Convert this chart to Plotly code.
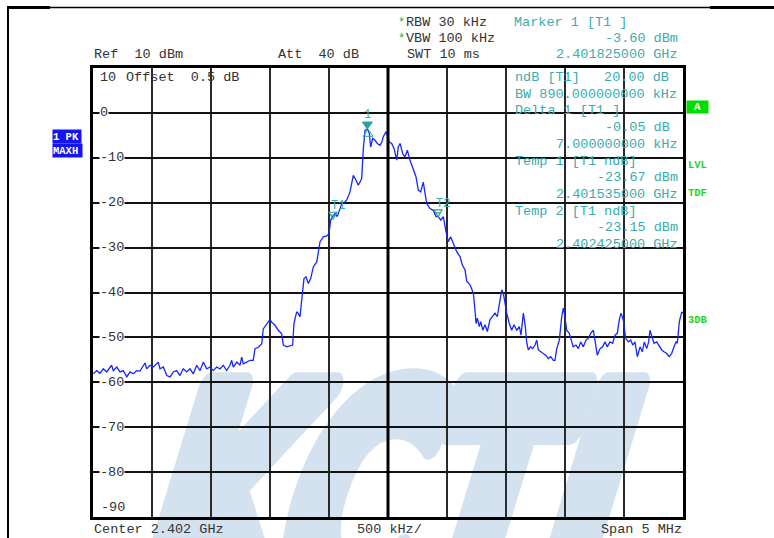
import base64
import plotly.graph_objects as go

# ---------------- data ----------------
START_GHZ = 2.3995
STOP_GHZ = 2.4045
CENTER_GHZ = 2.402

# sweep frequency, MHz above start frequency
sweep_offset_mhz = [
    0.003, 0.031, 0.059, 0.087, 0.116, 0.144, 0.158, 0.172, 0.201, 0.229,
    0.257, 0.286, 0.314, 0.342, 0.370, 0.398, 0.426, 0.441, 0.455, 0.483,
    0.511, 0.540, 0.553, 0.568, 0.596, 0.625, 0.653, 0.681, 0.709, 0.737,
    0.765, 0.794, 0.822, 0.850, 0.879, 0.907, 0.935, 0.964, 0.992, 1.019,
    1.048, 1.076, 1.104, 1.133, 1.161, 1.175, 1.189, 1.218, 1.246, 1.260,
    1.274, 1.303, 1.331, 1.358, 1.373, 1.401, 1.430, 1.443, 1.472, 1.500,
    1.514, 1.542, 1.570, 1.599, 1.613, 1.642, 1.692, 1.703, 1.726, 1.740,
    1.754, 1.769, 1.788, 1.805, 1.825, 1.845, 1.867, 1.896, 1.909, 1.924,
    1.952, 1.981, 2.000, 2.014, 2.031, 2.051, 2.070, 2.087, 2.108, 2.136,
    2.150, 2.178, 2.206, 2.229, 2.248, 2.263, 2.277, 2.291, 2.305, 2.325,
    2.342, 2.353, 2.370, 2.390, 2.409, 2.432, 2.447, 2.460, 2.483, 2.494,
    2.511, 2.531, 2.551, 2.574, 2.587, 2.602, 2.625, 2.644, 2.664, 2.686,
    2.714, 2.737, 2.757, 2.777, 2.799, 2.814, 2.828, 2.856, 2.884, 2.907,
    2.926, 2.947, 2.969, 2.989, 3.011, 3.031, 3.053, 3.082, 3.110, 3.130,
    3.153, 3.167, 3.195, 3.223, 3.237, 3.246, 3.257, 3.274, 3.286, 3.303,
    3.322, 3.342, 3.364, 3.387, 3.407, 3.426, 3.443, 3.464, 3.477, 3.492,
    3.506, 3.528, 3.548, 3.568, 3.591, 3.613, 3.627, 3.647, 3.664, 3.675,
    3.689, 3.709, 3.726, 3.746, 3.760, 3.774, 3.794, 3.816, 3.839, 3.858,
    3.879, 3.901, 3.915, 3.930, 3.952, 3.972, 3.986, 4.000, 4.014, 4.036,
    4.057, 4.070, 4.093, 4.113, 4.133, 4.155, 4.178, 4.197, 4.218, 4.240,
    4.254, 4.274, 4.297, 4.319, 4.339, 4.358, 4.381, 4.404, 4.424, 4.443,
    4.460, 4.475, 4.494, 4.514, 4.537, 4.557, 4.574, 4.593, 4.613, 4.636,
    4.655, 4.672, 4.692, 4.709, 4.720, 4.735, 4.754, 4.777, 4.799, 4.820,
    4.839, 4.862, 4.884, 4.904, 4.924, 4.941, 4.952, 4.969, 4.990, 5.000,
]

level_dbm = [
    -58.1, -57.4, -58.0, -57.0, -57.7, -56.5, -56.2, -57.4, -56.6, -57.7,
    -57.4, -58.8, -57.7, -58.1, -57.4, -57.5, -56.2, -55.7, -57.0, -56.2,
    -56.6, -55.9, -55.5, -57.0, -56.6, -58.5, -58.8, -57.7, -57.4, -58.5,
    -57.0, -57.7, -57.0, -58.1, -56.2, -57.4, -55.5, -57.0, -56.6, -57.4,
    -56.6, -57.0, -56.2, -57.4, -56.2, -55.1, -56.6, -55.5, -56.2, -54.4,
    -55.9, -55.5, -55.1, -55.1, -52.5, -52.2, -51.4, -48.1, -47.0, -46.0,
    -46.6, -47.3, -48.4, -49.2, -51.7, -52.1, -51.7, -46.9, -44.3, -44.7,
    -45.4, -40.9, -36.9, -36.5, -38.0, -36.9, -34.3, -33.2, -31.3, -28.7,
    -27.6, -27.4, -26.9, -23.9, -23.1, -22.4, -23.1, -21.7, -20.2, -19.8,
    -19.4, -17.6, -13.9, -15.0, -16.1, -15.4, -14.6, -7.9, -3.9, -3.6,
    -4.6, -7.6, -5.7, -6.1, -6.8, -7.2, -6.5, -5.3, -4.2, -5.0,
    -6.5, -6.8, -7.9, -10.5, -7.6, -6.8, -9.1, -9.8, -8.3, -10.5,
    -12.4, -14.2, -17.2, -17.6, -15.4, -18.0, -20.2, -21.3, -21.7, -23.1,
    -23.1, -23.9, -23.1, -26.1, -28.7, -27.6, -29.1, -30.9, -32.0, -33.9,
    -35.0, -37.5, -38.3, -40.1, -43.9, -46.9, -45.7, -47.6, -46.5, -48.4,
    -47.2, -48.7, -46.1, -45.4, -44.6, -45.4, -42.8, -39.4, -40.1, -42.8,
    -44.6, -46.9, -48.4, -47.2, -48.4, -47.6, -49.5, -44.6, -47.6, -51.0,
    -52.8, -52.1, -52.5, -51.7, -50.6, -52.8, -53.2, -53.6, -54.0, -54.7,
    -54.3, -55.1, -55.1, -52.5, -50.6, -45.4, -43.5, -45.4, -48.4, -49.1,
    -51.0, -52.1, -51.7, -52.5, -51.0, -52.1, -50.6, -50.2, -49.1, -48.4,
    -50.6, -54.0, -52.5, -52.1, -51.0, -52.1, -51.0, -51.3, -49.5, -49.1,
    -46.1, -44.6, -46.1, -50.2, -51.0, -50.6, -51.7, -51.0, -54.3, -52.1,
    -53.2, -51.0, -52.5, -51.0, -48.4, -49.9, -51.3, -51.0, -52.1, -52.8,
    -53.2, -53.6, -54.3, -53.6, -52.1, -51.0, -51.3, -46.5, -44.3, -44.6,
]

# markers (from the marker readouts)
marker_names = ["1", "T1", "T2"]
marker_freq_ghz = [2.401825, 2.401535, 2.402425]
marker_level_dbm = [-3.60, -23.67, -23.15]
delta_freq_ghz = 2.401832
delta_level_dbm = -3.65

y_tick_values = [0, -10, -20, -30, -40, -50, -60, -70, -80]
y_tick_labels = ["0", "-10", "-20", "-30", "-40", "-50", "-60", "-70", "-80"]

readout_lines = [
    ("ndB\u00a0[T1]\u00a0\u00a0\u00a020.00\u00a0dB", "left"),
    ("BW\u00a0890.000000000\u00a0kHz", "left"),
    ("Delta\u00a01\u00a0[T1\u00a0]", "left"),
    ("-0.05\u00a0dB", "right0"),
    ("7.000000000\u00a0kHz", "right"),
    ("Temp\u00a01\u00a0[T1\u00a0ndB]", "left"),
    ("-23.67\u00a0dBm", "right"),
    ("2.401535000\u00a0GHz", "right"),
    ("Temp\u00a02\u00a0[T1\u00a0ndB]", "left"),
    ("-23.15\u00a0dBm", "right"),
    ("2.402425000\u00a0GHz", "right"),
]

# ---------------- geometry helpers ----------------
W, H = 774, 538
L, R, T, B = 93, 683, 68, 517


def px(x):
    return (x - L) / (R - L)


def py(y):
    return (B - y) / (B - T)


MONO = "Liberation Mono, Courier New, monospace"
TEAL = "#3aadad"
DARK = "#333333"
GREEN = "#22d822"

freq_ghz = [START_GHZ + f / 1000.0 for f in sweep_offset_mhz]

fig = go.Figure()
fig.add_trace(go.Scatter(
    x=freq_ghz, y=level_dbm, mode="lines",
    line=dict(color="#1428ff", width=1.3),
    hoverinfo="skip", showlegend=False,
))

annotations = []


def ann(text, x, y, xanchor="left", color=DARK, size=13.5, bg=None, bold=False,
        yanchor="middle", family=MONO, width=None, height=None, align="left"):
    d = dict(text=("<b>%s</b>" % text) if bold else text,
             x=px(x), y=py(y), xref="paper", yref="paper",
             xanchor=xanchor, yanchor=yanchor, showarrow=False, align=align,
             font=dict(family=family, size=size, color=color))
    if bg:
        d["bgcolor"] = bg
        d["borderpad"] = 0
    if width:
        d["width"] = width
    if height:
        d["height"] = height
    annotations.append(d)


# header
ann("*", 396, 23, color="#19b019", size=12)
ann("*", 396, 39, color="#19b019", size=12)
ann("RBW\u00a030\u00a0kHz", 404, 22)
ann("VBW\u00a0100\u00a0kHz", 404, 38)
ann("SWT\u00a010\u00a0ms", 405, 54.5)
ann("Marker\u00a01\u00a0[T1\u00a0]", 512, 22, color=TEAL)
ann("-3.60\u00a0dBm", 680, 38, xanchor="right", color=TEAL)
ann("2.401825000\u00a0GHz", 680, 54.5, xanchor="right", color=TEAL)
ann("Ref\u00a0\u00a010\u00a0dBm", 92, 54.5)
ann("Att\u00a0\u00a040\u00a0dB", 275.5, 54.5)

# readout block inside grid
line_y = [77.5, 94.5, 111, 128, 144.5, 161, 177.5, 194, 211, 227.5, 244]
for (txt, al), yy in zip(readout_lines, line_y):
    if al == "left":
        ann(txt, 513, yy, color=TEAL)
    elif al == "right0":
        ann(txt, 672, yy, xanchor="right", color=TEAL)
    else:
        ann(txt, 680, yy, xanchor="right", color=TEAL)

# top-left inside
ann("10", 98, 77.5)
ann("Offset\u00a0\u00a00.5\u00a0dB", 124, 77.5)

# y labels (white background hides the grid line)
for v, lab in zip(y_tick_values, y_tick_labels):
    yy = B - (v - (-90)) / 100.0 * (B - T)
    ann(lab, 98.5, yy, bg="white")
ann("-90", 98.5, 507)

# bottom
ann("Center\u00a02.402\u00a0GHz", 92, 529.5)
ann("500\u00a0kHz/", 389, 529.5, xanchor="center")
ann("Span\u00a05\u00a0MHz", 684, 529.5, xanchor="right")

# side boxes
ann("A", 686, 107, xanchor="left", color="white", size=11, bg="#00dd00", bold=True,
    width=21, height=12, align="center")
ann("LVL", 686, 164.5, color=GREEN, size=10.5, bold=True)
ann("TDF", 686, 192.5, color=GREEN, size=10.5, bold=True)
ann("3DB", 686, 319.5, color=GREEN, size=10.5, bold=True)
ann("1\u00a0PK", 52, 136.5, color="white", size=10.5, bg="#1414f5", bold=True, width=28, height=13)
ann("MAXH", 52, 150.5, color="white", size=10.5, bg="#1414f5", bold=True, width=29, height=13)

# marker labels (data anchored)
for name, f, lv in zip(marker_names, marker_freq_ghz, marker_level_dbm):
    if name == "1":
        annotations.append(dict(text=name, x=f, y=lv, xref="x", yref="y", showarrow=False,
                                xanchor="center", yanchor="middle", yshift=14,
                                font=dict(family=MONO, size=12, color=TEAL)))
    else:
        annotations.append(dict(text=name, x=f, y=lv, xref="x", yref="y", showarrow=False,
                                xanchor="left", yanchor="middle", xshift=-4, yshift=13,
                                font=dict(family=MONO, size=12, color=TEAL)))

shapes = []
# marker triangles (pixel-sized paths anchored at the marker points)
shapes.append(dict(type="path", xref="x", yref="y", xsizemode="pixel", ysizemode="pixel",
                   xanchor=marker_freq_ghz[0], yanchor=marker_level_dbm[0],
                   path="M -5,7 L 5,7 L 0,0 Z", fillcolor="#2aa0a0", line=dict(color="#2aa0a0", width=1)))
shapes.append(dict(type="path", xref="x", yref="y", xsizemode="pixel", ysizemode="pixel",
                   xanchor=delta_freq_ghz, yanchor=delta_level_dbm,
                   path="M 0,0 L -5,-7 L 5,-7 Z", fillcolor="rgba(0,0,0,0)", line=dict(color="#2aa0a0", width=1)))
for f, lv in zip(marker_freq_ghz[1:], marker_level_dbm[1:]):
    shapes.append(dict(type="path", xref="x", yref="y", xsizemode="pixel", ysizemode="pixel",
                       xanchor=f, yanchor=lv,
                       path="M -4,7 L 4,7 L 0,0 Z M -2.5,4 L 2.5,4", fillcolor="rgba(0,0,0,0)",
                       line=dict(color="#2aa0a0", width=1.1)))

# centre line (thicker)
shapes.append(dict(type="line", xref="x", yref="paper", x0=CENTER_GHZ, x1=CENTER_GHZ, y0=0, y1=1,
                   line=dict(color="black", width=3)))

# page border
shapes.append(dict(type="line", xref="paper", yref="paper", x0=px(8), x1=px(774), y0=py(7.5), y1=py(7.5),
                   line=dict(color="black", width=1.5)))
shapes.append(dict(type="line", xref="paper", yref="paper", x0=px(7), x1=px(50), y0=py(7.5), y1=py(7.5),
                   line=dict(color="black", width=3)))
shapes.append(dict(type="line", xref="paper", yref="paper", x0=px(710), x1=px(774), y0=py(7.5), y1=py(7.5),
                   line=dict(color="black", width=3)))
shapes.append(dict(type="line", xref="paper", yref="paper", x0=px(8), x1=px(8), y0=py(7), y1=py(538),
                   line=dict(color="black", width=2)))

# watermark as background svg image
svg = (
    '<svg xmlns="http://www.w3.org/2000/svg" width="774" height="538" viewBox="0 0 774 538">'
    '<g transform="translate(124,606) skewX(-17)">'
    '<text x="0" y="0" font-family="DejaVu Sans" font-weight="bold" font-size="300" '
    'textLength="515" lengthAdjust="spacingAndGlyphs" fill="#d4e2f0" '
    'stroke="#d4e2f0" stroke-width="30" stroke-linejoin="round">KCTL</text>'
    '</g></svg>'
)
src = "data:image/svg+xml;base64," + base64.b64encode(svg.encode("utf-8")).decode("ascii")

fig.update_layout(
    width=W, height=H, autosize=False,
    margin=dict(l=L, r=W - R, t=T, b=H - B, pad=0),
    paper_bgcolor="white", plot_bgcolor="rgba(0,0,0,0)",
    showlegend=False,
    xaxis=dict(range=[START_GHZ, STOP_GHZ], tick0=START_GHZ, dtick=0.0005,
               showgrid=True, gridcolor="#2a2a2a", gridwidth=1.6,
               showticklabels=False, ticks="", zeroline=False,
               showline=True, linecolor="black", linewidth=3, mirror=True, fixedrange=True),
    yaxis=dict(range=[-90, 10], tick0=-90, dtick=10,
               showgrid=True, gridcolor="#111111", gridwidth=1.6,
               showticklabels=False, ticks="", zeroline=False,
               showline=True, linecolor="black", linewidth=3, mirror=True, fixedrange=True),
    annotations=annotations,
    shapes=shapes,
    images=[dict(source=src, xref="paper", yref="paper", x=px(0), y=py(0),
                 sizex=W / (R - L), sizey=H / (B - T), xanchor="left", yanchor="top",
                 sizing="stretch", layer="below")],
)

fig.write_html(
    "out.html",
    config={"displayModeBar": False, "responsive": False},
    post_script="document.body.style.margin='0px';document.body.style.overflow='hidden';",
)
